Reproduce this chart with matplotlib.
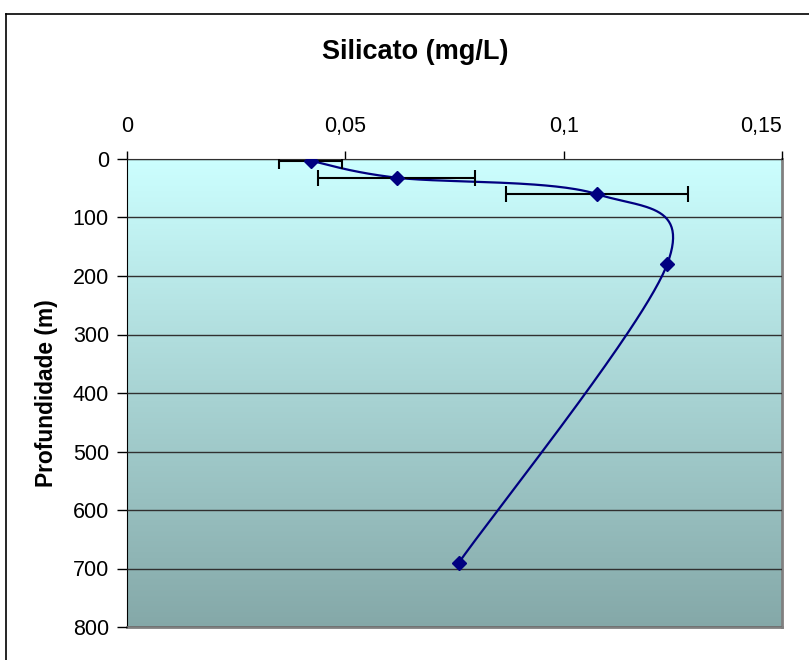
import matplotlib
matplotlib.use("Agg")

import matplotlib.pyplot as plt
import numpy as np
from matplotlib.lines import Line2D

plt.rcParams["font.family"] = ["Liberation Sans", "DejaVu Sans"]

# silicate profile
silicato = [0.0421, 0.0618, 0.1076, 0.1237, 0.0760]
profundidade = [3, 32, 60, 180, 690]
erro = [0.0072, 0.0180, 0.0208]

x_ticks = [0, 0.05, 0.1, 0.15]
x_labels = ["0", "0,05", "0,1", "0,15"]
y_ticks = [0, 100, 200, 300, 400, 500, 600, 700, 800]

fig = plt.figure(figsize=(8.09, 6.6), dpi=100)
ax = fig.add_axes([127 / 809, 33 / 660, 655 / 809, 468 / 660])

ax.set_xlim(0, 0.15)
ax.set_ylim(800, 0)

# vertical gradient for the plot area
grad = np.linspace(0, 1, 256).reshape(-1, 1)
top = np.array([0.80, 1.00, 1.00])
bottom = np.array([0.52, 0.66, 0.66])
img = top + (bottom - top) * grad[:, :, None]
ax.imshow(img, extent=[0, 0.15, 800, 0], aspect="auto", zorder=0)

ax.set_yticks(y_ticks)
ax.yaxis.grid(True, color="#303030", linewidth=1.0)
ax.set_axisbelow(False)
for gl in ax.get_ygridlines():
    gl.set_zorder(1)

ax.xaxis.tick_top()
ax.set_xticks(x_ticks)
ax.set_xticklabels(x_labels)
ax.tick_params(axis="x", direction="out", length=6, width=1, pad=10, labelsize=15.5)
ax.tick_params(axis="y", direction="out", length=7, width=1, pad=6, labelsize=15.5)
# last label kept inside the chart
ax.get_xticklabels()[-1].set_horizontalalignment("right")

ax.spines["left"].set_color("black")
ax.spines["top"].set_color("black")
ax.spines["right"].set_color("#808080")
ax.spines["bottom"].set_color("#808080")
ax.spines["right"].set_linewidth(2)
ax.spines["bottom"].set_linewidth(2)

# smoothed line (bezier through the points, built in pixel space)
pts = ax.transData.transform(np.column_stack([silicato, profundidade]))
n = len(pts)
curve = []
for i in range(n - 1):
    p0 = pts[max(i - 1, 0)]
    p1 = pts[i]
    p2 = pts[i + 1]
    p3 = pts[min(i + 2, n - 1)]
    c1 = p1 + (p2 - p0) / 6
    c2 = p2 - (p3 - p1) / 6
    t = np.linspace(0, 1, 60)[:, None]
    seg = ((1 - t) ** 3) * p1 + 3 * ((1 - t) ** 2) * t * c1 + 3 * (1 - t) * t ** 2 * c2 + t ** 3 * p2
    curve.append(seg)
curve = ax.transData.inverted().transform(np.vstack(curve))
ax.plot(curve[:, 0], curve[:, 1], color="#000080", linewidth=1.6, zorder=3)

ax.errorbar(silicato[:3], profundidade[:3], xerr=erro, fmt="none",
            ecolor="black", elinewidth=1.5, capsize=6, capthick=1.5, zorder=4)
ax.plot(silicato, profundidade, linestyle="none", marker="D", markersize=7,
        color="#000080", zorder=5)

fig.text(415 / 809, 1 - 52 / 660, "Silicato (mg/L)", ha="center", va="center",
         fontsize=19.5, fontweight="bold")
fig.text(47 / 809, 1 - 393 / 660, "Profundidade (m)", ha="center", va="center",
         rotation=90, fontsize=16.4, fontweight="bold")

# outer chart border
fig.add_artist(Line2D([5.5 / 809, 5.5 / 809], [0, 1 - 14 / 660], color="black", linewidth=1.2))
fig.add_artist(Line2D([5.5 / 809, 1], [1 - 14 / 660, 1 - 14 / 660], color="black", linewidth=1.2))

fig.savefig("out.png", dpi=100)
